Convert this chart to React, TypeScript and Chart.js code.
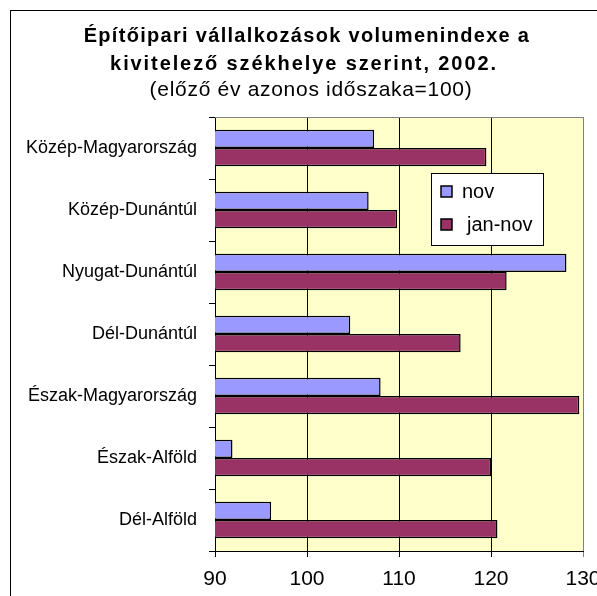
import React, { useEffect, useRef } from "react";
import { Chart, registerables } from "chart.js";

Chart.register(...registerables);

const categories = [
  "Közép-Magyarország",
  "Közép-Dunántúl",
  "Nyugat-Dunántúl",
  "Dél-Dunántúl",
  "Észak-Magyarország",
  "Észak-Alföld",
  "Dél-Alföld",
];
const novValues = [107.3, 106.7, 128.2, 104.7, 108.0, 91.9, 96.1];
const janNovValues = [119.5, 109.8, 121.7, 116.7, 129.6, 120.0, 120.7];
const xTickValues = [90, 100, 110, 120, 130];
const seriesNames = ["nov", "jan-nov"];
const titleLines = [
  "Építőipari vállalkozások volumenindexe a",
  "kivitelező székhelye szerint, 2002.",
];
const subtitleText = "(előző év azonos időszaka=100)";

const FONT = "'Liberation Sans', Arial, sans-serif";
const NOV_COLOR = "#9999FF";
const JAN_COLOR = "#993366";

const decorPlugin = {
  id: "decor",
  beforeDraw(chart: any) {
    const { ctx, chartArea } = chart;
    ctx.save();
    ctx.fillStyle = "#FFFFCC";
    ctx.fillRect(chartArea.left, chartArea.top, chartArea.right - chartArea.left, chartArea.bottom - chartArea.top);
    ctx.restore();
  },
  afterDraw(chart: any) {
    const { ctx, chartArea } = chart;
    ctx.save();
    ctx.strokeStyle = "#808080";
    ctx.lineWidth = 1;
    ctx.beginPath();
    ctx.moveTo(chartArea.left, chartArea.top + 0.5);
    ctx.lineTo(chartArea.right, chartArea.top + 0.5);
    ctx.stroke();

    ctx.fillStyle = "#000";
    ctx.textAlign = "center";
    ctx.textBaseline = "alphabetic";
    const c: any = ctx;
    ctx.font = `bold 20px ${FONT}`;
    c.letterSpacing = "1.3px";
    ctx.fillText(titleLines[0], 296, 31);
    c.letterSpacing = "1.9px";
    ctx.fillText(titleLines[1], 293, 59);
    ctx.font = `21px ${FONT}`;
    c.letterSpacing = "0.7px";
    ctx.fillText(subtitleText, 300, 85);
    c.letterSpacing = "0px";

    const lx = 420, ly = 162, lw = 112, lh = 72;
    ctx.fillStyle = "#fff";
    ctx.fillRect(lx, ly, lw, lh);
    ctx.strokeStyle = "#000";
    ctx.lineWidth = 1;
    ctx.strokeRect(lx + 0.5, ly + 0.5, lw, lh);
    const colors = [NOV_COLOR, JAN_COLOR];
    const rowsY = [181, 214];
    ctx.font = `20px ${FONT}`;
    ctx.textAlign = "left";
    ctx.textBaseline = "middle";
    seriesNames.forEach((name, i) => {
      const sy = rowsY[i] - 6;
      ctx.fillStyle = colors[i];
      ctx.fillRect(430, sy, 11, 11);
      ctx.strokeStyle = "#000";
      ctx.lineWidth = 1.5;
      ctx.strokeRect(430, sy, 11, 11);
      ctx.fillStyle = "#000";
      ctx.fillText(name, i === 0 ? 451 : 456, rowsY[i]);
    });
    ctx.restore();
  },
};

export default function App() {
  const canvasRef = useRef<HTMLCanvasElement | null>(null);

  useEffect(() => {
    if (!canvasRef.current) return;
    const chart = new Chart(canvasRef.current, {
      type: "bar",
      data: {
        labels: categories,
        datasets: [
          {
            label: seriesNames[0],
            data: novValues,
            backgroundColor: NOV_COLOR,
            borderColor: "#000",
            borderWidth: 1.5,
            borderSkipped: false,
            barPercentage: 1,
            categoryPercentage: 0.59,
          },
          {
            label: seriesNames[1],
            data: janNovValues,
            backgroundColor: JAN_COLOR,
            borderColor: "#000",
            borderWidth: 1.5,
            borderSkipped: false,
            barPercentage: 1,
            categoryPercentage: 0.59,
          },
        ],
      },
      options: {
        indexAxis: "y",
        animation: false,
        responsive: false,
        maintainAspectRatio: false,
        layout: { padding: { top: 106, left: 0, right: 15, bottom: 0 } },
        plugins: {
          legend: { display: false },
          title: { display: false },
          tooltip: { enabled: false },
        },
        scales: {
          x: {
            type: "linear",
            min: 90,
            max: 130,
            afterBuildTicks: (scale: any) => {
              scale.ticks = xTickValues.map((v) => ({ value: v }));
            },
            afterFit: (scale: any) => {
              scale.height = 58;
              scale.paddingLeft = 0;
              scale.paddingRight = 0;
            },
            grid: {
              color: (ctx: any) => (ctx.tick && ctx.tick.value === 130 ? "#808080" : "#000"),
              lineWidth: 1,
              tickLength: 6,
              drawTicks: true,
            },
            border: { color: "#000", width: 1 },
            ticks: {
              color: "#000",
              font: { family: FONT, size: 21 },
              padding: 10,
              maxRotation: 0,
            },
          },
          y: {
            type: "category",
            afterFit: (scale: any) => {
              scale.width = 204;
              scale.paddingTop = 0;
              scale.paddingBottom = 0;
            },
            grid: {
              offset: true,
              drawOnChartArea: false,
              color: "#000",
              tickLength: 6,
            },
            border: { color: "#000", width: 1 },
            ticks: {
              color: "#000",
              font: { family: FONT, size: 18 },
              padding: 12,
            },
          },
        },
      },
      plugins: [decorPlugin],
    } as any);
    return () => chart.destroy();
  }, []);

  return (
    <div style={{ position: "fixed", left: 0, top: 0, width: 597, height: 596, overflow: "hidden", background: "#fff" }}>
      <div
        style={{
          position: "absolute",
          left: 10,
          top: 10,
          width: 589,
          height: 600,
          border: "1px solid #000",
          boxSizing: "border-box",
          background: "#fff",
        }}
      >
        <canvas ref={canvasRef} width={587} height={598} style={{ display: "block", width: 587, height: 598 }} />
      </div>
    </div>
  );
}
